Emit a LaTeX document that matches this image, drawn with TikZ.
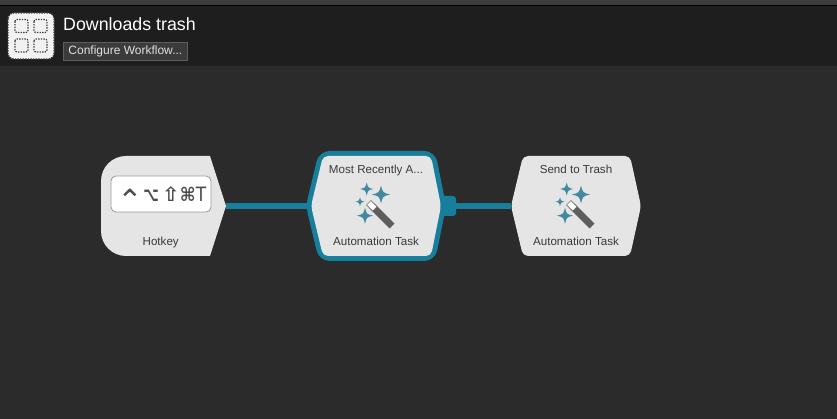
\documentclass[tikz,border=0pt]{standalone}
\usepackage{fontspec}
\usepackage{graphicx}
\setmainfont{Liberation Sans}
\newfontfamily\keyfont{DejaVu Sans}
\usetikzlibrary{positioning}

\definecolor{canvascol}{HTML}{2B2B2B}
\definecolor{headercol}{HTML}{1E1E1E}
\definecolor{stripcol}{HTML}{3D3D3D}
\definecolor{linkcol}{HTML}{177E9C}
\definecolor{blockcol}{HTML}{E5E5E5}
\definecolor{sparkcol}{HTML}{43899F}
\definecolor{wandcol}{HTML}{5E5E5E}
\definecolor{labelcol}{HTML}{3A3A3A}

\tikzset{
  anchorbox/.style={minimum height=100pt,inner sep=0pt},
  blocklabel/.style={anchor=base,text=labelcol,font=\fontsize{11.6}{13}\selectfont,inner sep=0pt},
  dashbox/.style={draw=black!75,dash pattern=on 1.4pt off 1.2pt,line width=1.2pt,rounded corners=2pt},
  link/.style={linkcol,line width=6pt}
}

\newcommand{\sparkle}[3]{
  \fill[sparkcol,shift={(#1,#2)},scale=#3] (-1,0) .. controls (-0.2,-0.2) .. (0,-1)
    .. controls (0.2,-0.2) .. (1,0) .. controls (0.2,0.2) .. (0,1)
    .. controls (-0.2,0.2) .. cycle;
}

\begin{document}
\begin{tikzpicture}[x=1pt,y=-1pt]
\useasboundingbox (0,0) rectangle (837,419);

% Window background
\fill[canvascol] (0,0) rectangle (837,419);
\fill[headercol] (0,6) rectangle (837,66);
\fill[stripcol] (0,0) rectangle (837,5);
\fill[black] (0,5) rectangle (837,6.5);

% Workflow icon
\draw[fill=white!95!black,draw=black!75,dash pattern=on 1.4pt off 1.2pt,line width=1.2pt,rounded corners=6pt] (8,13) rectangle (54,59);
\foreach \x in {15,34} {
  \foreach \y in {19.5,39} {
    \draw[dashbox] (\x,\y) rectangle ++(13,13);
  }
}

% Title and button
\node[anchor=base west,text=white,inner sep=0pt,font=\fontsize{17.8}{20}\selectfont] (title) at (63,30.5) {Downloads trash};
\node[anchor=west,fill=white!23!black,draw=white!37!black,line width=0.7pt,text=white!88!black,minimum width=124pt,minimum height=18pt,inner sep=0pt,font=\fontsize{12}{14}\selectfont] (configure) at (63,51) {Configure Workflow...};

% Anchors of the blocks
\node[anchorbox,minimum width=125pt] (hotkey) at (163.5,206) {};
\node[anchorbox,minimum width=130pt] (recent) at (376,206) {};
\node[anchorbox,minimum width=130pt] (trash) at (576,206) {};
\node[inner sep=0pt,minimum width=15pt,minimum height=20pt] (port) at (449,206) {};

% Connectors
\draw[link] (hotkey.east) -- (recent.west);
\draw[link] (port.center) -- (trash.west);

% Selected block has a teal border
\draw[line width=10pt,linkcol,rounded corners=7pt] (311,206) -- (323,156) -- (431,156) -- (441,206) -- (431,256) -- (323,256) -- cycle;
\fill[linkcol,rounded corners=3pt] (441,196) rectangle (456,216);

% Block shapes
\fill[blockcol] (226,206) -- (210,256) -- (126,256) arc[start angle=90,end angle=180,radius=25] -- (101,181) arc[start angle=180,end angle=270,radius=25] -- (210,156) -- cycle;
\fill[blockcol,rounded corners=5pt] (311,206) -- (323,156) -- (431,156) -- (441,206) -- (431,256) -- (323,256) -- cycle;
\fill[blockcol,rounded corners=5pt] (511,206) -- (523,156) -- (630,156) -- (641,206) -- (630,256) -- (523,256) -- cycle;

% Hotkey field
\node[draw=black!40,fill=white,line width=0.8pt,rounded corners=5pt,minimum width=100pt,minimum height=36pt,inner sep=0pt] (keys) at (161,194) {};
\node[anchor=base,inner sep=0pt,text=black!70,font=\keyfont\fontsize{18}{24}\selectfont] (keytext) at (162,201.5) {\raisebox{-10pt}{\scalebox{1.7}{⌃}}\bfseries\scalebox{0.75}[1.1]{⌥}\,\scalebox{1.2}[1.1]{⇧}\scalebox{0.95}[1.05]{⌘}\mdseries\scalebox{0.95}[1.1]{T}};

% Labels
\node[blocklabel] (hotkeylabel) at (160.7,246) {Hotkey};
\node[blocklabel] (recentlabel) at (376,173.5) {Most Recently A...};
\node[blocklabel] (recenttask) at (376,246) {Automation Task};
\node[blocklabel] (trashlabel) at (576,173.5) {Send to Trash};
\node[blocklabel] (trashtask) at (576,246) {Automation Task};

% Magic wands
\foreach \dx in {0,200} {
  \begin{scope}[xshift=\dx pt]
    \sparkle{366.7}{189}{6.5}
    \sparkle{381}{194.5}{9}
    \sparkle{360}{201.7}{4.5}
    \sparkle{365}{215.7}{8}
    \draw[wandcol,line width=7pt] (372,206) -- (392,226);
    \draw[black!55,line width=7pt] (368.5,202.5) -- (375,209);
    \draw[white,line width=5pt] (369,203) -- (374.5,208.5);
  \end{scope}
}

\end{tikzpicture}
\end{document}
